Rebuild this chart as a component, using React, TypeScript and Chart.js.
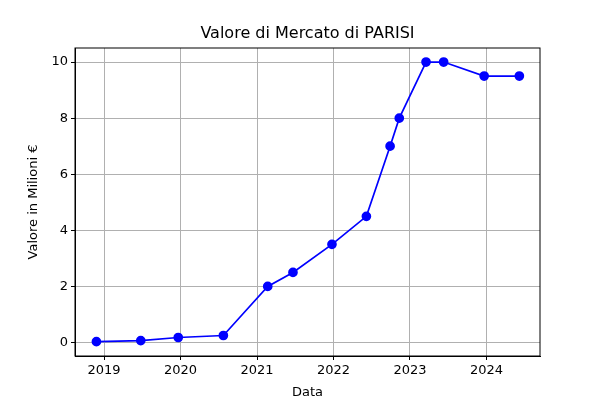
import React, { useEffect, useRef } from "react";
import { Chart, registerables } from "chart.js";
Chart.register(...registerables);

const dates = [2018.9, 2019.48, 2019.97, 2020.56, 2021.14, 2021.47, 2021.98, 2022.43, 2022.74, 2022.86, 2023.21, 2023.44, 2023.97, 2024.43];
const values = [0.03, 0.07, 0.18, 0.25, 2, 2.5, 3.5, 4.5, 7, 8, 10, 10, 9.5, 9.5];
const title = "Valore di Mercato di PARISI";
const xLabel = "Data";
const yLabel = "Valore in Milioni €";

export default function App() {
  const ref = useRef<HTMLCanvasElement>(null);
  useEffect(() => {
    document.body.style.margin = "0";
    const font = { family: "DejaVu Sans", size: 13 };
    const box = {
      id: "box",
      afterDraw(c: any) {
        const { left, right, top, bottom } = c.chartArea;
        const ctx = c.ctx;
        ctx.save();
        ctx.strokeStyle = "#000";
        ctx.lineWidth = 1;
        ctx.strokeRect(left, top, right - left, bottom - top);
        ctx.fillStyle = "#000";
        ctx.textAlign = "center";
        ctx.textBaseline = "middle";
        ctx.font = "16px 'DejaVu Sans'";
        ctx.fillText(title, (left + right) / 2, 34);
        ctx.font = "13px 'DejaVu Sans'";
        ctx.translate(34, (top + bottom) / 2);
        ctx.rotate(-Math.PI / 2);
        ctx.fillText(yLabel, 0, 0);
        ctx.restore();
      },
    };
    const chart = new Chart(ref.current!, {
      type: "line",
      data: {
        datasets: [{
          data: dates.map((d, i) => ({ x: d, y: values[i] })),
          borderColor: "#0000ff",
          backgroundColor: "#0000ff",
          borderWidth: 1.7,
          pointRadius: 4,
          pointHoverRadius: 4,
        }],
      },
      options: {
        animation: false,
        responsive: false,
        layout: { padding: { right: 60, top: 48 } },
        plugins: {
          legend: { display: false },
          tooltip: { enabled: false },
          title: { display: false },
        },
        scales: {
          x: {
            type: "linear", min: 2018.62, max: 2024.7,
            afterBuildTicks: (s: any) => { s.ticks = [2019, 2020, 2021, 2022, 2023, 2024].map(v => ({ value: v })); },
            afterFit: (s: any) => { s.height = 44; },
            ticks: { color: "#000", font, callback: (v: any) => String(v) },
            grid: { color: "#b0b0b0", tickColor: "#000", tickLength: 4 },
            border: { color: "#000" },
            title: { display: true, text: xLabel, color: "#000", font, padding: 0 },
          },
          y: {
            min: -0.48, max: 10.5,
            afterBuildTicks: (s: any) => { s.ticks = [0, 2, 4, 6, 8, 10].map(v => ({ value: v })); },
            afterFit: (s: any) => { s.width = 75; },
            ticks: { color: "#000", font },
            grid: { color: "#b0b0b0", tickColor: "#000", tickLength: 4 },
            border: { color: "#000" },
          },
        },
      },
      plugins: [box],
    } as any);
    return () => chart.destroy();
  }, []);
  return <canvas ref={ref} width={600} height={400} />;
}
